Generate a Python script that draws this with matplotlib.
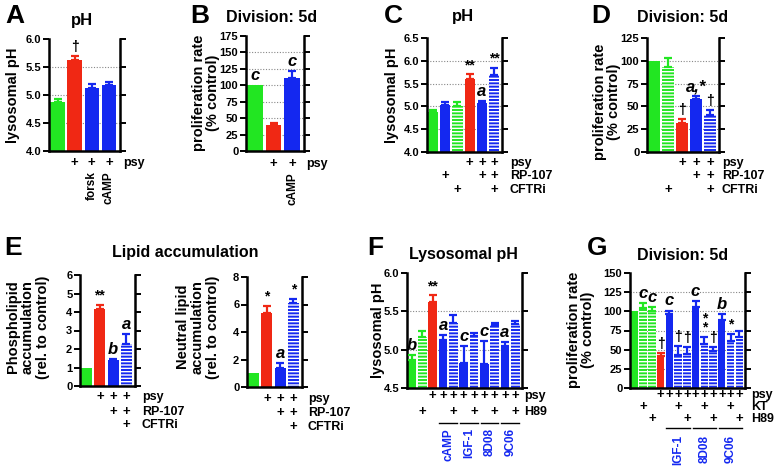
import matplotlib
matplotlib.use('Agg')
import matplotlib.pyplot as plt
from matplotlib import transforms
from matplotlib.lines import Line2D

W, H = 777, 467
plt.rcParams['font.family'] = ['Liberation Sans', 'DejaVu Sans']
plt.rcParams['font.weight'] = 'bold'
plt.rcParams['hatch.linewidth'] = 1.0

GC = '#22E622'
RC = '#F02814'
BC = '#1428F0'

# ---------------- data ----------------
a_vals = [4.87, 5.62, 5.13, 5.17]
a_err = [0.05, 0.08, 0.06, 0.07]

b_vals = [100, 39, 111]
b_err = [0, 4, 11]

c_vals = [4.87, 5.02, 5.00, 5.60, 5.08, 5.68]
c_err = [0.05, 0.08, 0.10, 0.10, 0.04, 0.17]

d_vals = [100, 93, 32, 58, 41]
d_err = [0, 10, 4, 3, 5]

e1_vals = [1.0, 4.15, 1.42, 2.25]
e1_err = [0, 0.25, 0.05, 0.55]

e2_vals = [1.0, 5.4, 1.4, 6.1]
e2_err = [0, 0.5, 0.35, 0.3]

f_vals = [4.87, 5.17, 5.62, 5.13, 5.35, 4.83, 5.18, 4.81, 5.32, 5.05, 5.33]
f_err = [0.06, 0.08, 0.09, 0.06, 0.10, 0.22, 0.04, 0.30, 0.03, 0.05, 0.05]

g_vals = [100, 105, 101, 42, 97, 43, 44, 106, 57, 48, 89, 61, 66]
g_err = [0, 6, 5, 4, 4, 12, 9, 8, 10, 5, 7, 10, 8]

# treatment rows
a_rows = {'psy': [0, 1, 1, 1]}
b_rows = {'psy': [0, 1, 1]}
c_rows = {'psy': [0, 0, 0, 1, 1, 1], 'RP-107': [0, 1, 0, 0, 1, 1], 'CFTRi': [0, 0, 1, 0, 0, 1]}
d_rows = {'psy': [0, 0, 1, 1, 1], 'RP-107': [0, 0, 0, 1, 1], 'CFTRi': [0, 1, 0, 0, 1]}
e_rows = {'psy': [0, 1, 1, 1], 'RP-107': [0, 0, 1, 1], 'CFTRi': [0, 0, 0, 1]}
f_rows = {'psy': [0, 0, 1, 1, 1, 1, 1, 1, 1, 1, 1], 'H89': [0, 1, 0, 0, 1, 0, 1, 0, 1, 0, 1]}
g_rows = {'psy': [0, 0, 0, 1, 1, 1, 1, 1, 1, 1, 1, 1, 1],
          'KT': [0, 1, 0, 0, 0, 1, 0, 0, 1, 0, 0, 1, 0],
          'H89': [0, 0, 1, 0, 0, 0, 1, 0, 0, 1, 0, 0, 1]}

a_sub = ['', '', 'forsk', 'cAMP']
b_sub = ['', '', 'cAMP']
f_groups = [('cAMP', 3, 4), ('IGF-1', 5, 6), ('8D08', 7, 8), ('9C06', 9, 10)]
g_groups = [('IGF-1', 4, 6), ('8D08', 7, 9), ('9C06', 10, 12)]

a_ann = [(1, '†')]
b_ann = [(0, 'c'), (2, 'c')]
c_ann = [(3, '**'), (4, 'a'), (5, '**')]
d_ann = [(2, '†'), (3, 'a,*'), (4, '†')]
e1_ann = [(1, '**'), (2, 'b'), (3, 'a')]
e2_ann = [(1, '*'), (2, 'a'), (3, '*')]
f_ann = [(0, 'b'), (2, '**'), (3, 'a'), (5, 'c'), (7, 'c'), (9, 'a')]
g_ann = [(1, 'c'), (2, 'c'), (3, '†'), (4, 'c'), (5, '†'), (6, '†'), (7, 'c'),
         (8, '*\n*'), (9, '†'), (10, 'b'), (11, '*')]

# ---------------- drawing helpers ----------------
fig = plt.figure(figsize=(7.77, 4.67), dpi=100)


def add_ax(l, t, r, b):
    return fig.add_axes([l / W, 1 - b / H, (r - l) / W, (b - t) / H])


def fy(y):
    return 1 - y / H


def panel(rect, vals, errs, cols, hatch, ylim, yticks, fmt, grid=True):
    ax = add_ax(*rect)
    n = len(vals)
    for i in range(n):
        c = cols[i]
        if hatch[i]:
            ax.bar(i, vals[i], width=0.84, color=c, edgecolor='white',
                   linewidth=0, hatch='-----', zorder=2)
        else:
            ax.bar(i, vals[i], width=0.84, color=c, linewidth=0, zorder=2)
        if errs[i] > 0:
            ax.errorbar(i, vals[i], yerr=[[0], [errs[i]]], fmt='none', ecolor=c,
                        elinewidth=1.6, capsize=3.2, capthick=1.6, zorder=3)
    ax.set_xlim(-0.5, n - 0.35)
    ax.set_ylim(*ylim)
    ax.set_yticks(yticks)
    ax.set_yticklabels([fmt.format(t) for t in yticks])
    if grid:
        for t in yticks[1:-1] if yticks[-1] >= ylim[1] else yticks[1:]:
            ax.axhline(t, color='#888888', linestyle=(0, (1, 1.5)), linewidth=0.8, zorder=1)
    ax.spines['top'].set_visible(False)
    for s in ['left', 'right', 'bottom']:
        ax.spines[s].set_linewidth(1.8)
    ax.tick_params(axis='y', direction='out', length=4, width=1.4, left=True,
                   right=True, labelright=False, labelsize=8, pad=1.5)
    ax.tick_params(axis='x', bottom=False, labelbottom=False)
    return ax


def annotate(ax, vals, errs, anns, size=10):
    for i, t in anns:
        style = 'italic' if t[0].isalpha() else 'normal'
        fs = size + 2 if t[0].isalpha() else size
        ax.annotate(t, (i, vals[i] + errs[i]), xytext=(0, 1.5), textcoords='offset points',
                    ha='center', va='bottom', fontsize=fs, fontstyle=style,
                    fontweight='bold', linespacing=0.55, zorder=4)


def rows(ax, rowdict, ys, labx, fs=9):
    tr = transforms.blended_transform_factory(ax.transData, fig.transFigure)
    for (name, flags), y in zip(rowdict.items(), ys):
        for i, f in enumerate(flags):
            if f:
                ax.text(i, fy(y), '+', transform=tr, ha='center', va='center',
                        fontsize=fs + 0.5, fontweight='bold')
        fig.text(labx / W, fy(y), name, ha='left', va='center', fontsize=fs, fontweight='bold')


def sublabels(ax, labels, ytop, color='black', fs=8.5):
    tr = transforms.blended_transform_factory(ax.transData, fig.transFigure)
    for i, lab in enumerate(labels):
        if lab:
            ax.text(i, fy(ytop), lab, transform=tr, rotation=90, ha='center', va='top',
                    fontsize=fs, fontweight='bold', color=color)


def groups(ax, grp, yline, ytop, fs=8.5):
    tr = transforms.blended_transform_factory(ax.transData, fig.transFigure)
    for lab, i0, i1 in grp:
        fig.add_artist(Line2D([i0 - 0.35, i1 + 0.35], [fy(yline), fy(yline)],
                              transform=tr, color='black', linewidth=1.0))
        ax.text((i0 + i1) / 2, fy(ytop), lab, transform=tr, rotation=90, ha='center',
                va='top', fontsize=fs, fontweight='bold', color=BC)


def letter(x, y, s):
    fig.text(x / W, fy(y), s, fontsize=19, fontweight='bold', ha='left', va='top')


def title(x, y, s, fs=11.5):
    fig.text(x / W, fy(y), s, fontsize=fs, fontweight='bold', ha='center', va='center')


def ylab(x, y, s, fs=10.5):
    fig.text(x / W, fy(y), s, fontsize=fs, fontweight='bold', ha='center', va='center',
             rotation=90, linespacing=1.05, multialignment='center')


# ---------------- Panel A ----------------
ax = panel((49, 39, 120, 151), a_vals, a_err, [GC, RC, BC, BC], [0, 0, 0, 0],
           (4.0, 6.0), [4.0, 4.5, 5.0, 5.5, 6.0], '{:.1f}')
annotate(ax, a_vals, a_err, a_ann)
rows(ax, a_rows, [163], 123)
sublabels(ax, a_sub, 171)
letter(5, 4, 'A')
title(82, 20, 'pH', 12)
ylab(13, 95, 'lysosomal pH')

# ---------------- Panel B ----------------
ax = panel((246, 36, 304, 151), b_vals, b_err, [GC, RC, BC], [0, 0, 0],
           (0, 175), list(range(0, 176, 25)), '{:d}')
annotate(ax, b_vals, b_err, b_ann)
rows(ax, b_rows, [164], 306)
sublabels(ax, b_sub, 172)
letter(190, 4, 'B')
title(272, 18, 'Division: 5d')
ylab(206, 93, 'proliferation rate\n(% control)')

# ---------------- Panel C ----------------
ax = panel((427, 38, 502, 152), c_vals, c_err, [GC, BC, GC, RC, BC, BC], [0, 0, 1, 0, 0, 1],
           (4.0, 6.5), [4.0, 4.5, 5.0, 5.5, 6.0, 6.5], '{:.1f}')
annotate(ax, c_vals, c_err, c_ann)
rows(ax, c_rows, [163, 176, 190], 510)
letter(384, 4, 'C')
title(463, 17, 'pH', 12)
ylab(392, 95, 'lysosomal pH')

# ---------------- Panel D ----------------
ax = panel((647, 38, 719, 152), d_vals, d_err, [GC, GC, RC, BC, BC], [0, 1, 0, 0, 1],
           (0, 125), list(range(0, 126, 25)), '{:d}')
annotate(ax, d_vals, d_err, d_ann)
rows(ax, d_rows, [163, 176, 190], 722)
letter(591, 4, 'D')
title(683, 18, 'Division: 5d')
ylab(607, 102, 'proliferation rate\n(% control)')

# ---------------- Panel E ----------------
ax = panel((80, 275, 135, 386), e1_vals, e1_err, [GC, RC, BC, BC], [0, 0, 0, 1],
           (0, 6), list(range(0, 7)), '{:d}', grid=False)
annotate(ax, e1_vals, e1_err, e1_ann)
rows(ax, e_rows, [397, 412, 425], 142)
ylab(28, 327, 'Phospholipid\naccumulation\n(rel. to control)')

ax = panel((247, 277, 302, 387), e2_vals, e2_err, [GC, RC, BC, BC], [0, 0, 0, 1],
           (0, 8), [0, 2, 4, 6, 8], '{:d}', grid=False)
annotate(ax, e2_vals, e2_err, e2_ann)
rows(ax, e_rows, [399, 413, 427], 308)
ylab(198, 327, 'Neutral lipid\naccumulation\n(rel. to control)')
letter(4, 236, 'E')
title(185, 252, 'Lipid accumulation')

# ---------------- Panel F ----------------
ax = panel((407, 273, 522, 388), f_vals, f_err, [GC, GC, RC] + [BC] * 8,
           [0, 1, 0, 0, 1, 0, 1, 0, 1, 0, 1],
           (4.5, 6.0), [4.5, 5.0, 5.5, 6.0], '{:.1f}')
annotate(ax, f_vals, f_err, f_ann)
rows(ax, f_rows, [396, 412], 524)
groups(ax, f_groups, 423, 428)
letter(367, 236, 'F')
title(463, 255, 'Lysosomal pH')
ylab(378, 330, 'lysosomal pH')

# ---------------- Panel G ----------------
ax = panel((630, 273, 745, 388), g_vals, g_err, [GC, GC, GC, RC] + [BC] * 9,
           [0, 1, 1, 0, 0, 1, 1, 0, 1, 1, 0, 1, 1],
           (0, 150), list(range(0, 151, 25)), '{:d}')
annotate(ax, g_vals, g_err, g_ann)
rows(ax, g_rows, [395, 407, 419], 751)
groups(ax, g_groups, 428, 435)
letter(587, 236, 'G')
title(683, 255, 'Division: 5d')
ylab(581, 330, 'proliferation rate\n(% control)')

fig.savefig('out.png', dpi=100)
